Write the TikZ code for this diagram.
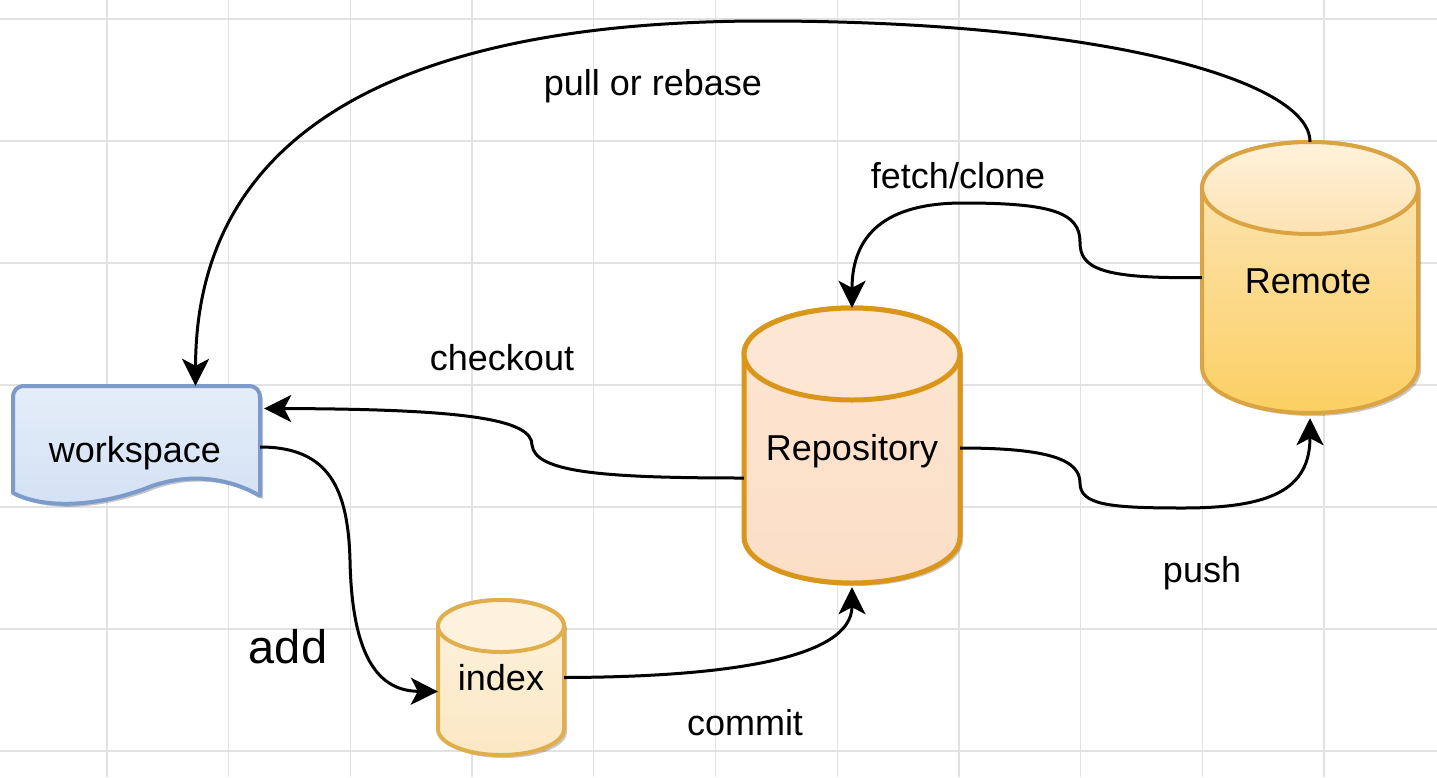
\documentclass[tikz,border=0pt]{standalone}
\usepackage{fontspec}
\setmainfont{Liberation Sans}
\usetikzlibrary{arrows.meta,shadows,calc}
\definecolor{gridc}{HTML}{E2E2E2}
\definecolor{wsTop}{HTML}{E4EDF9}
\definecolor{wsBot}{HTML}{D3E1F4}
\definecolor{wsLine}{HTML}{7B9CCB}
\definecolor{repoTop}{HTML}{FDE6D3}
\definecolor{repoBot}{HTML}{FCDEC6}
\definecolor{repoLine}{HTML}{D9961A}
\definecolor{remTop}{HTML}{FDE8C0}
\definecolor{remBot}{HTML}{FBCF62}
\definecolor{remCapTop}{HTML}{FFF2DB}
\definecolor{remCapBot}{HTML}{FDE2B2}
\definecolor{remLine}{HTML}{D9A441}
\definecolor{idxTop}{HTML}{FDF2DE}
\definecolor{idxBot}{HTML}{FBE8C4}
\definecolor{idxLine}{HTML}{E1AE4C}
\tikzset{
  gridline/.style={draw=gridc, line width=1.3pt},
  conn/.style={draw=black, line width=3pt, -{Stealth[length=27pt,width=27pt,inset=7pt]}},
  lbl/.style={font=\fontsize{36}{43}\selectfont, anchor=base, inner sep=0pt},
  biglbl/.style={font=\fontsize{47}{56}\selectfont, anchor=base, inner sep=0pt},
  anchorbox/.style={draw=none, fill=none, inner sep=0pt, shape=rectangle},
  shadowed/.style={drop shadow={shadow xshift=3pt, shadow yshift=-3pt, opacity=0.22, fill=black}},
}
% cylinder: #1 cx, #2 top ellipse centre y, #3 rx, #4 ry, #5 distance between ellipse centres, #6 body style, #7 cap style
\newcommand{\mycyl}[7]{%
  \pgfmathsetmacro\cylL{#1-#3}%
  \pgfmathsetmacro\cylR{#1+#3}%
  \pgfmathsetmacro\cylB{#2+#5}%
  \pgfmathsetmacro\cylKx{0.5523*#3}%
  \pgfmathsetmacro\cylKy{0.5523*#4}%
  \path[#6] (\cylL,#2) -- (\cylL,\cylB)
     .. controls (\cylL,\cylB+\cylKy) and (#1-\cylKx,\cylB+#4) .. (#1,\cylB+#4)
     .. controls (#1+\cylKx,\cylB+#4) and (\cylR,\cylB+\cylKy) .. (\cylR,\cylB)
     -- (\cylR,#2)
     .. controls (\cylR,#2-\cylKy) and (#1+\cylKx,#2-#4) .. (#1,#2-#4)
     .. controls (#1-\cylKx,#2-#4) and (\cylL,#2-\cylKy) .. (\cylL,#2) -- cycle;
  \path[#7] (#1,#2) ellipse [x radius=#3pt, y radius=#4pt];
}
\begin{document}
\begin{tikzpicture}[x=1pt,y=-1pt]
\useasboundingbox (0,0) rectangle (1437,777);
\fill[white] (0,0) rectangle (1437,777);
% grid
\foreach \i in {0,...,10} \draw[gridline] ({107+121.7*\i},0) -- ({107+121.7*\i},777);
\foreach \i in {0,...,6} \draw[gridline] (0,{19+122*\i}) -- (1437,{19+122*\i});

% workspace (document shape)
\path[shadowed, top color=wsTop, bottom color=wsBot, draw=wsLine, line width=4pt, line join=round]
  (13,398) .. controls (13,390) and (17,386) .. (25,386) -- (248,386)
  .. controls (256,386) and (260,390) .. (260,398) -- (260,496)
  .. controls (235,481) and (196,471) .. (152,486)
  .. controls (105,505) and (48,511) .. (13,493) -- cycle;
\node[anchorbox, minimum width=247pt, minimum height=119pt] (ws) at (136.5,445.5) {};

% Repository
\mycyl{852}{354}{108}{46}{183}{shadowed, top color=repoTop, bottom color=repoBot, draw=repoLine, line width=5pt}{fill=repoTop, draw=repoLine, line width=5pt}
\node[anchorbox, minimum width=216pt, minimum height=275pt] (repo) at (852,445.5) {};

% Remote
\mycyl{1310}{188}{108}{46}{179}{shadowed, top color=remTop, bottom color=remBot, draw=remLine, line width=4pt}{top color=remCapTop, bottom color=remCapBot, draw=remLine, line width=4pt}
\node[anchorbox, minimum width=216pt, minimum height=271pt] (remote) at (1310,277.5) {};

% index
\mycyl{501}{626}{63}{26}{103}{shadowed, top color=idxTop, bottom color=idxBot, draw=idxLine, line width=4pt}{fill=idxTop, draw=idxLine, line width=4pt}
\node[anchorbox, minimum width=126pt, minimum height=155pt] (index) at (501,677.5) {};

% connectors
\draw[conn] (remote.north) .. controls (1310,80) and (1100,21) .. (764,21)
  .. controls (420,21) and (196,120) .. ([xshift=59pt]ws.north);
\draw[conn] (remote.west) .. controls (1100,279) and (1080,268) .. (1080,242)
  .. controls (1080,212) and (1050,203) .. (963,203)
  .. controls (885,203) and (852,235) .. (repo.north);
\draw[conn] ([yshift=-32.5pt]repo.west) .. controls (600,478) and (535,472) .. (532,445)
  .. controls (532,420) and (470,409) .. ([xshift=4pt,yshift=37pt]ws.east);
\draw[conn] ([yshift=-2.5pt]repo.east) .. controls (1050,448) and (1080,460) .. (1080,483)
  .. controls (1080,505) and (1110,508) .. (1183,508)
  .. controls (1270,508) and (1310,490) .. ([yshift=-5pt]remote.south);
\draw[conn] ([yshift=-1.5pt]ws.east) .. controls (330,447) and (348,490) .. (350,560)
  .. controls (352,660) and (380,691) .. ([yshift=-14pt]index.west);
\draw[conn] (index.east) .. controls (720,677) and (852,660) .. ([yshift=-4pt]repo.south);

% texts
\node[lbl] (wsT) at (135,462) {workspace};
\node[lbl] (repoT) at (852,460) {Repository};
\node[lbl] (remT) at (1308,293) {Remote};
\node[lbl] (idxT) at (501,690) {index};
\node[lbl] (pullT) at (653,95) {pull or rebase};
\node[lbl] (fetchT) at (958,188) {fetch/clone};
\node[lbl] (checkT) at (502,370) {checkout};
\node[lbl] (pushT) at (1202,582) {push};
\node[lbl] (commitT) at (745,735) {commit};
\node[biglbl] (addT) at (288,663) {add};
\end{tikzpicture}
\end{document}
